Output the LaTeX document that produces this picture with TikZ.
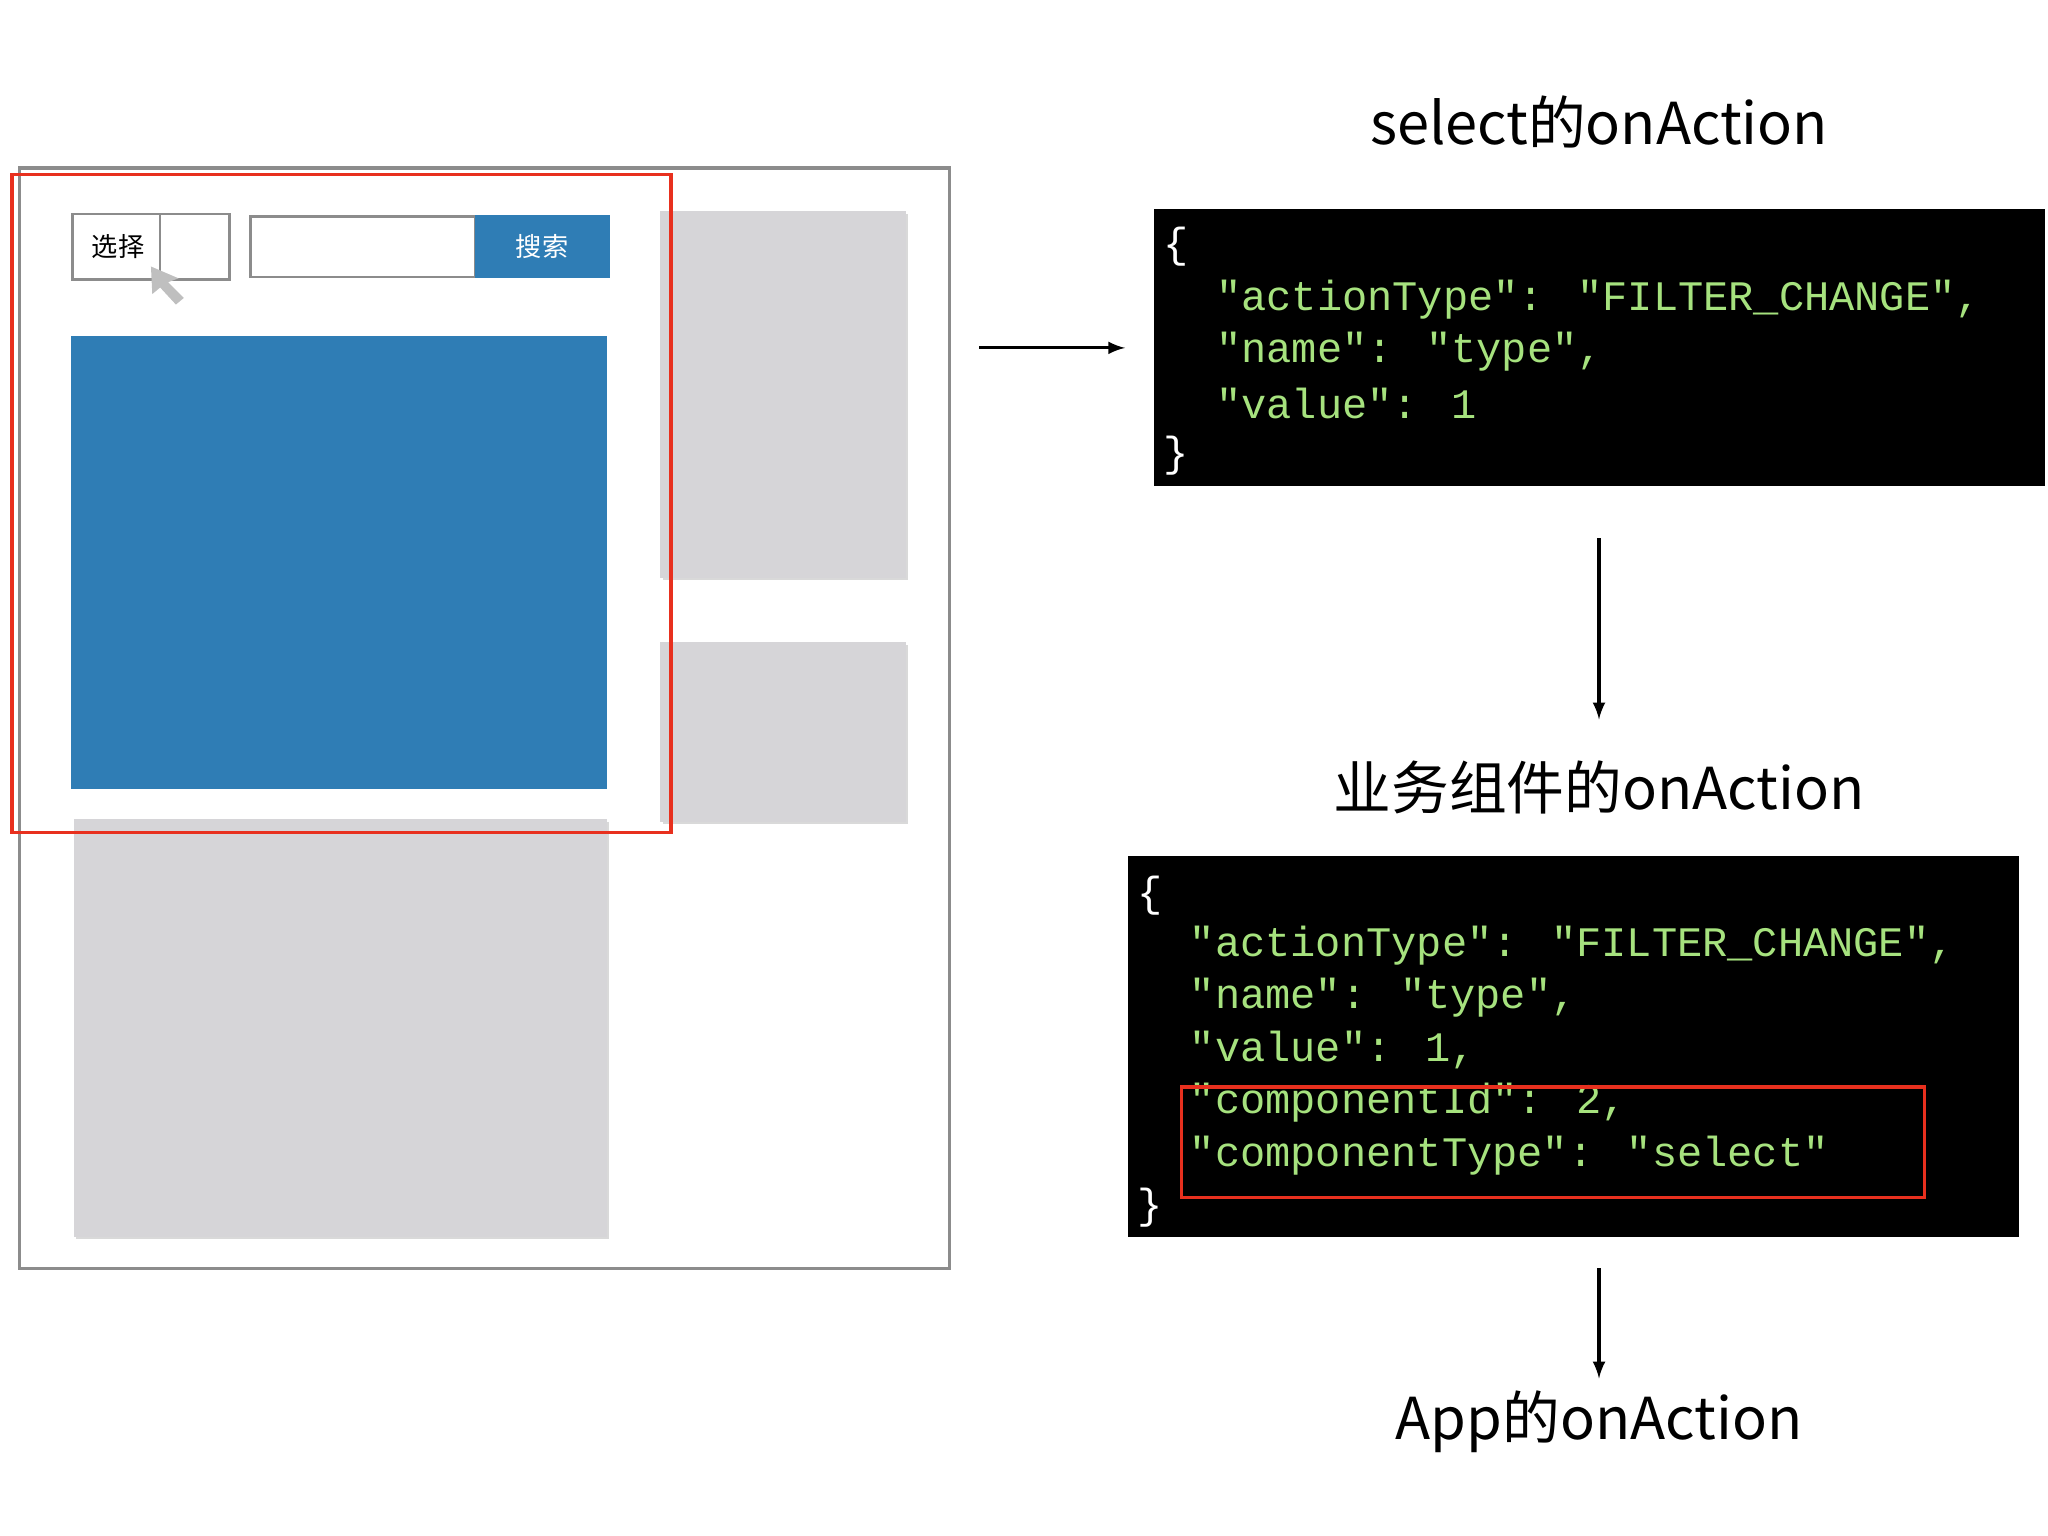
\documentclass[tikz,border=0pt]{standalone}
\usepackage{fontspec}
\newfontfamily\cjk{Noto Sans CJK SC}
\newfontfamily\mono{Liberation Mono}
\definecolor{pblue}{HTML}{2F7DB5}
\definecolor{pgray}{HTML}{D6D5D8}
\definecolor{cgreen}{HTML}{A6E27E}
\definecolor{fgray}{HTML}{8C8C8C}
\definecolor{pred}{HTML}{E8301E}
\begin{document}
\begin{tikzpicture}[x=0.5pt,y=-0.5pt,
  title/.style={font=\cjk\fontsize{22}{26}\selectfont,text=black},
  code/.style={anchor=west,inner sep=0,font=\mono\fontsize{16}{18}\selectfont,text=cgreen},
  brace/.style={code,text=white},
  panel/.style={fill=pgray,draw=none},
  arr/.style={-latex,line width=1.2pt}]
\useasboundingbox (0,0) rectangle (1560,1170);
% left mockup
\draw[fgray,line width=1.2pt] (15,128) rectangle (723,966);
\fill[black!15] (505,163) rectangle (692,442);
\fill[panel] (503,161) rectangle (690,440);
\fill[black!15] (505,491) rectangle (692,628);
\fill[panel] (503,489) rectangle (690,626);
\fill[black!15] (58,626) rectangle (464,944);
\fill[panel] (56,624) rectangle (462,942);
\fill[pblue] (54,256) rectangle (462,601);
\draw[fgray,line width=1pt] (55,163) rectangle (175,213);
\draw[fgray,line width=1pt] (122,163) -- (122,213);
\node[font=\cjk\fontsize{10}{12}\selectfont] (sel) at (90,188) {选择};
\draw[fgray,line width=1pt] (191,165) rectangle (362,211);
\fill[pblue] (362,164) rectangle (465,212);
\node[font=\cjk\fontsize{10}{12}\selectfont,text=white] (srch) at (413,188) {搜索};
\fill[black!25] (115,203) -- (116,224) -- (122,219) -- (134,232) -- (140,227) -- (128,215) -- (136,212) -- cycle;
\draw[pred,line width=1.3pt] (9,133) rectangle (511,634);
% right
\coordinate (a1s) at (746,265); \coordinate (a1e) at (857,265);
\draw[arr] (a1s) -- (a1e);
\node[title] (t1) at (1218,93) {select的onAction};
\fill[black] (879,159) rectangle (1558,370);
\node[brace] at (886,188) {\{};
\node[code] at (926,228) {"actionType": "FILTER\_CHANGE",};
\node[code] at (926,268) {"name": "type",};
\node[code] at (926,307) {"value": 1};
\node[brace] at (886,347) {\}};
\coordinate (a2s) at (1218,410); \coordinate (a2e) at (1218,548);
\draw[arr] (a2s) -- (a2e);
\node[title] (t2) at (1218,600) {业务组件的onAction};
\fill[black] (859,652) rectangle (1538,942);
\node[brace] at (866,682) {\{};
\node[code] at (906,720) {"actionType": "FILTER\_CHANGE",};
\node[code] at (906,760) {"name": "type",};
\node[code] at (906,800) {"value": 1,};
\node[code] at (906,840) {"componentId": 2,};
\node[code] at (906,880) {"componentType": "select"};
\node[brace] at (866,920) {\}};
\draw[pred,line width=1.3pt] (900,828) rectangle (1466,912);
\coordinate (a3s) at (1218,966); \coordinate (a3e) at (1218,1050);
\draw[arr] (a3s) -- (a3e);
\node[title] (t3) at (1218,1083) {App的onAction};
\end{tikzpicture}
\end{document}
